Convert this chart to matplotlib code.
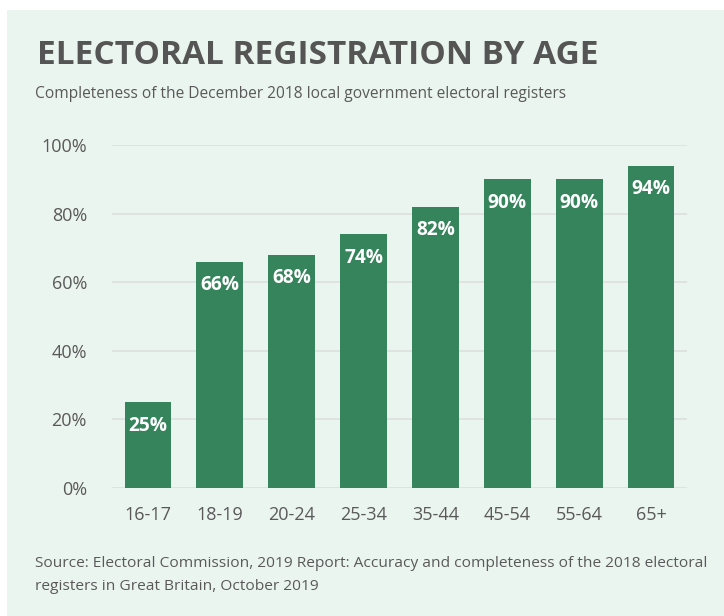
import matplotlib
matplotlib.use('agg')
import matplotlib.pyplot as plt
from matplotlib.patches import Rectangle

# Data
ages = ["16-17", "18-19", "20-24", "25-34", "35-44", "45-54", "55-64", "65+"]
completeness = [25, 66, 68, 74, 82, 90, 90, 94]
yticks = [0, 20, 40, 60, 80, 100]

title = "ELECTORAL REGISTRATION BY AGE"
subtitle = "Completeness of the December 2018 local government electoral registers"
source = ("Source: Electoral Commission, 2019 Report: Accuracy and completeness of the 2018 electoral\n"
          "registers in Great Britain, October 2019")

bg = '#ebf5f0'
bar_col = '#36845b'
txt_col = '#595959'
grid_col = '#dcdfdd'

plt.rcParams['font.family'] = ['Open Sans', 'DejaVu Sans']

fig = plt.figure(figsize=(7.24, 6.16), dpi=100)
fig.patch.set_facecolor('white')
# light green panel
fig.patches.append(Rectangle((7 / 724, 0), 1, 1 - 10 / 616, transform=fig.transFigure,
                             facecolor=bg, edgecolor='none', zorder=-10))

ax = fig.add_axes([112 / 724, 1 - 488 / 616, (687 - 112) / 724, (488 - 145) / 616])
ax.set_facecolor(bg)
ax.patch.set_alpha(0)

x = list(range(len(ages)))
ax.bar(x, completeness, width=0.65, color=bar_col, zorder=3)
for xi, v in zip(x, completeness):
    ax.annotate(f"{v}%", (xi, v), xytext=(0, -17), textcoords='offset points',
                ha='center', va='center', color='white', fontsize=13.8,
                fontweight='bold', zorder=4)

ax.set_xlim(-0.5, 7.5)
ax.set_ylim(0, 100)
ax.set_yticks(yticks)
ax.set_yticklabels([f"{t}%" for t in yticks])
ax.set_xticks(x)
ax.set_xticklabels(ages)
ax.tick_params(axis='both', length=0, labelsize=13, colors=txt_col)
ax.tick_params(axis='y', pad=18)
ax.tick_params(axis='x', pad=13)
ax.yaxis.grid(True, color=grid_col, linewidth=1.2, zorder=0)
ax.set_axisbelow(True)
for s in ax.spines.values():
    s.set_visible(False)

fig.text(37 / 724, 1 - 56 / 616, title, fontsize=24, fontweight='bold',
         color='#555555', va='center', ha='left', fontstretch='condensed')
fig.text(35 / 724, 1 - 94 / 616, subtitle, fontsize=11.2, color=txt_col,
         va='center', ha='left')
fig.text(35 / 724, 1 - 575 / 616, source, fontsize=11.15, color=txt_col,
         va='center', ha='left', linespacing=1.8)

plt.savefig("out.png", dpi=100, facecolor=fig.get_facecolor())
plt.close()
